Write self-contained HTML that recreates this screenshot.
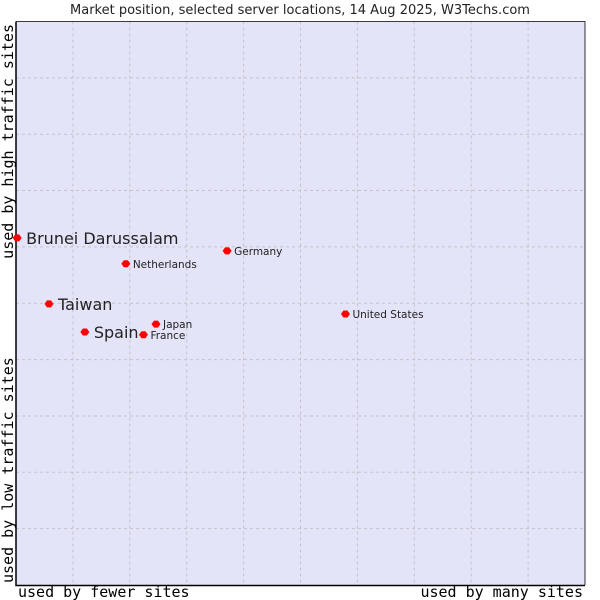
<!DOCTYPE html>
<html><head><meta charset="utf-8"><style>
body{margin:0;background:#fff}
svg{display:block}
.t{font-family:"DejaVu Sans","Liberation Sans",sans-serif;fill:#222}
.m{font-family:"DejaVu Sans Mono","Liberation Mono",monospace;fill:#000;font-size:15px}
</style></head><body>
<svg id="c" width="600" height="600">
<text class="t" x="300" y="14" text-anchor="middle" font-size="13">Market position, selected server locations, 14 Aug 2025, W3Techs.com</text>
<rect x="16" y="21.5" width="569" height="563.5" fill="#e3e4f8"/>
<g id="grid"></g>
<path d="M16,21.5V585.5H585" fill="none" stroke="#000" stroke-width="1.5"/>
<path d="M16,21.5H585V585" fill="none" stroke="#000" stroke-width="0.8"/>
<text class="m" x="18" y="597">used by fewer sites</text>
<text class="m" x="583" y="597" text-anchor="end">used by many sites</text>
<text class="m" transform="translate(13,583) rotate(-90)">used by low traffic sites</text>
<text class="m" transform="translate(13,24) rotate(-90)" text-anchor="end">used by high traffic sites</text>
<g id="pts"></g>
</svg>
<script>
const names=["Brunei Darussalam","Taiwan","Spain","Netherlands","Japan","France","Germany","United States"];
const xs=[0.2,5.8,12.1,19.3,24.6,22.4,37.1,57.9];
const ys=[61.6,49.9,44.9,57.0,46.3,44.4,59.3,48.1];
const big=[1,1,1,0,0,0,0,0];
const X0=16,X1=585,Y0=585,Y1=21.5;
const sx=v=>X0+v/100*(X1-X0), sy=v=>Y0-v/100*(Y0-Y1);
const NS="http://www.w3.org/2000/svg";
const g=document.getElementById('grid');
for(let i=1;i<10;i++){
 const lx=document.createElementNS(NS,'line');
 
 
 lx.setAttribute('x1',sx(i*10));lx.setAttribute('x2',sx(i*10));lx.setAttribute('y1',Y1);lx.setAttribute('y2',Y0);
 lx.setAttribute('stroke','#c4c4c8');lx.setAttribute('stroke-dasharray','3,3');g.appendChild(lx);
 const ly=document.createElementNS(NS,'line');
 
 
 ly.setAttribute('y1',sy(i*10));ly.setAttribute('y2',sy(i*10));ly.setAttribute('x1',X0);ly.setAttribute('x2',X1);
 ly.setAttribute('stroke','#c4c4c8');ly.setAttribute('stroke-dasharray','3,3');g.appendChild(ly);
}
const p=document.getElementById('pts');
names.forEach((n,i)=>{
 const x=sx(xs[i]),y=sy(ys[i]);
 const d=document.createElementNS(NS,'path');
 
 
 d.setAttribute('d',`M${x-4.5},${y}L${x-2},${y-3.5}L${x+2},${y-3.5}L${x+4.5},${y}L${x+2},${y+3.5}L${x-2},${y+3.5}Z`);
 d.setAttribute('fill','#f00');p.appendChild(d);
 const t=document.createElementNS(NS,'text');
 
 
 t.setAttribute('class','t');
 t.setAttribute('x',x+(big[i]?9:7));t.setAttribute('y',y+(big[i]?6:4));
 t.setAttribute('font-size',big[i]?16:10.5);t.textContent=n;p.appendChild(t);
});
</script>
</body></html>
